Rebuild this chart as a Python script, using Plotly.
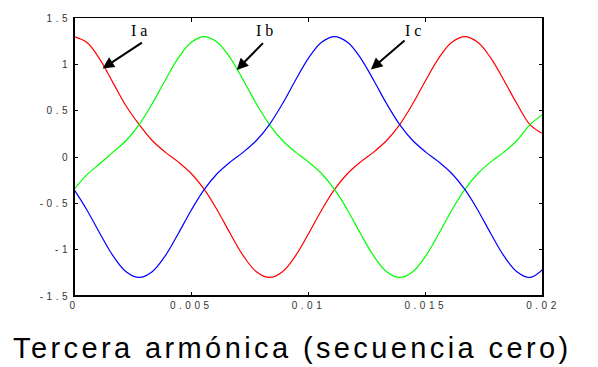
import plotly.graph_objects as go

# time samples (s)
t = [0.0, 0.000556, 0.001111, 0.001667, 0.002222, 0.002778, 0.003333, 0.003889,
     0.004444, 0.005, 0.005556, 0.006111, 0.006667, 0.007222, 0.007778, 0.008333,
     0.008889, 0.009444, 0.01, 0.010556, 0.011111, 0.011667, 0.012222, 0.012778,
     0.013333, 0.013889, 0.014444, 0.015, 0.015556, 0.016111, 0.016667, 0.017222,
     0.017778, 0.018333, 0.018889, 0.019444, 0.02]

ia = [1.3, 1.235, 1.05, 0.8, 0.55, 0.35, 0.178, 0.053, -0.053, -0.178,
      -0.35, -0.574, -0.828, -1.067, -1.238, -1.3, -1.238, -1.067, -0.828, -0.574,
      -0.35, -0.178, -0.053, 0.053, 0.178, 0.35, 0.574, 0.828, 1.067, 1.238,
      1.3, 1.238, 1.067, 0.828, 0.574, 0.35, 0.25]

ib = [-0.35, -0.19, -0.07, 0.053, 0.178, 0.35, 0.574, 0.828, 1.067, 1.238,
      1.3, 1.238, 1.067, 0.828, 0.574, 0.35, 0.178, 0.053, -0.053, -0.178,
      -0.35, -0.574, -0.828, -1.067, -1.238, -1.3, -1.238, -1.067, -0.828, -0.574,
      -0.35, -0.178, -0.053, 0.053, 0.178, 0.35, 0.46]

ic = [-0.35, -0.574, -0.828, -1.067, -1.238, -1.3, -1.238, -1.067, -0.828, -0.574,
      -0.35, -0.178, -0.053, 0.053, 0.178, 0.35, 0.574, 0.828, 1.067, 1.238,
      1.3, 1.238, 1.067, 0.828, 0.574, 0.35, 0.178, 0.053, -0.053, -0.178,
      -0.35, -0.574, -0.828, -1.067, -1.238, -1.3, -1.21]

series_names = ["I a", "I b", "I c"]
series_colors = ["#ff0000", "#00ff00", "#0000ff"]

x_tickvals = [0, 0.005, 0.01, 0.015, 0.02]
x_ticklabels = ["0", "0.005", "0.01", "0.015", "0.02"]
y_tickvals = [-1.5, -1, -0.5, 0, 0.5, 1, 1.5]
y_ticklabels = ["-1.5", "-1", "-0.5", "0", "0.5", "1", "1.5"]

title_text = "Tercera armónica (secuencia cero)"

# label anchors (tip x, tip y, tail x, tail y, text x, text y)
label_arrows = [
    (0.00122, 0.955, 0.00296, 1.245, 0.00278, 1.36),
    (0.00694, 0.94, 0.00812, 1.245, 0.00813, 1.36),
    (0.01266, 0.945, 0.01416, 1.27, 0.01444, 1.37),
]

def spaced(s, sp):
    return "<span style='letter-spacing:%spx'>%s</span>" % (sp, s)

fig = go.Figure()
for ys, name, col in zip([ia, ib, ic], series_names, series_colors):
    fig.add_trace(go.Scatter(x=t, y=ys, mode="lines", name=name,
                             line=dict(color=col, width=1.2, shape="spline", smoothing=1.0),
                             showlegend=False))

tickfont = dict(family="Liberation Sans, Arial, sans-serif", size=10, color="#333")
fig.update_xaxes(range=[0, 0.02], tickvals=x_tickvals,
                 ticktext=[spaced(s, 3.5) for s in x_ticklabels],
                 showgrid=False, zeroline=False, showline=True, linecolor="black",
                 linewidth=1, mirror="ticks", ticks="inside", ticklen=4,
                 tickcolor="black", tickfont=tickfont)
fig.update_yaxes(range=[-1.5, 1.5], tickvals=y_tickvals,
                 ticktext=[spaced(s, 3.5) for s in y_ticklabels],
                 showgrid=False, zeroline=False, showline=True, linecolor="black",
                 linewidth=1, mirror="ticks", ticks="inside", ticklen=4,
                 tickcolor="black", tickfont=tickfont)

# thicker frame edges (left, bottom, right)
for x0, y0, x1, y1 in [(0, 0, 0, 1), (0, 0, 1, 0), (1, 0, 1, 1)]:
    fig.add_shape(type="line", xref="x domain", yref="y domain",
                  x0=x0, y0=y0, x1=x1, y1=y1, line=dict(color="black", width=2))

for (xt, yt, xa, ya, xl, yl), name in zip(label_arrows, series_names):
    fig.add_annotation(x=xt, y=yt, ax=xa, ay=ya, xref="x", yref="y",
                       axref="x", ayref="y", text="", showarrow=True,
                       arrowhead=2, arrowsize=1.15, arrowwidth=2, arrowcolor="black")
    fig.add_annotation(x=xl, y=yl, xref="x", yref="y", text=name, showarrow=False,
                       font=dict(family="Liberation Serif, Times New Roman, serif",
                                 size=16, color="black"))

fig.add_annotation(x=0.466, y=-0.187, xref="paper", yref="paper",
                   text=spaced(title_text, 3.4), showarrow=False,
                   xanchor="center", yanchor="middle",
                   font=dict(family="Liberation Sans, Arial, sans-serif", size=29, color="black"))

fig.update_layout(width=598, height=367, margin=dict(l=74, r=55, t=18, b=71),
                  paper_bgcolor="white", plot_bgcolor="white")

fig.write_html("out.html")
